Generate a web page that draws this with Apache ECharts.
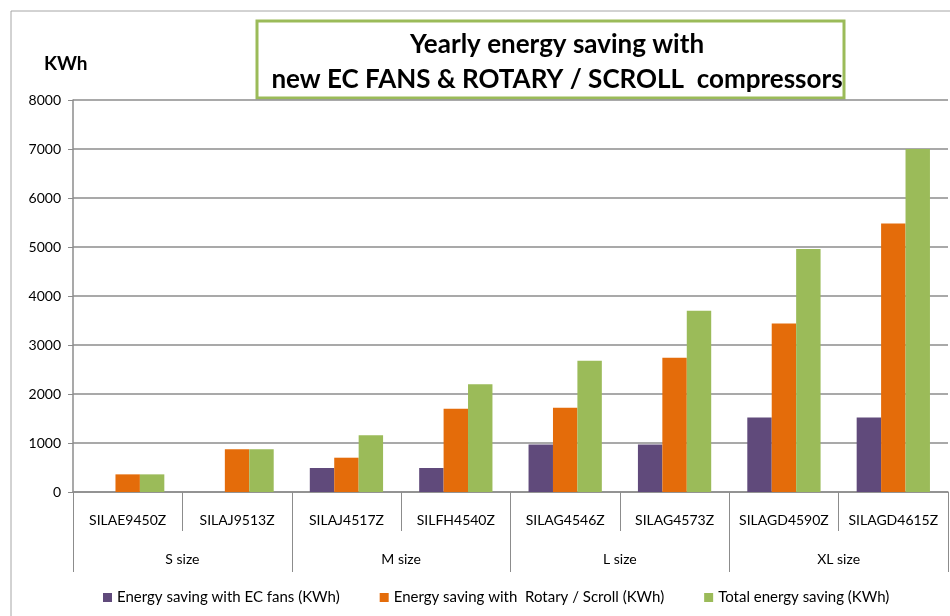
<!DOCTYPE html>
<html>
<head>
<meta charset="utf-8">
<title>Yearly energy saving</title>
<script src="https://cdn.jsdelivr.net/npm/echarts@6/dist/echarts.min.js"></script>
<style>
  html, body { margin: 0; padding: 0; background: #fff; }
  #chart { width: 950px; height: 616px; }
</style>
</head>
<body>
<div id="chart"></div>
<script>
  // models and their size groups
  const models = ['SILAE9450Z', 'SILAJ9513Z', 'SILAJ4517Z', 'SILFH4540Z', 'SILAG4546Z', 'SILAG4573Z', 'SILAGD4590Z', 'SILAGD4615Z']
  const sizes = ['S size', 'M size', 'L size', 'XL size']
  const yTicks = [0, 1000, 2000, 3000, 4000, 5000, 6000, 7000, 8000]

  // values (KWh)
  const ecFans = [0, 0, 490, 490, 970, 970, 1520, 1520]
  const rotaryScroll = [360, 870, 700, 1700, 1720, 2740, 3440, 5480]
  const totalSaving = [360, 870, 1160, 2200, 2680, 3700, 4960, 7000]

  const seriesNames = ['Energy saving with EC fans (KWh)', 'Energy saving with  Rotary / Scroll (KWh)', 'Total energy saving (KWh)']
  const colors = ['#604a7b', '#e46c0a', '#9bbb59']
  const font = 'Lato, "Liberation Sans", sans-serif'
  const gray = '#8c8c8c'

  const chart = echarts.init(document.getElementById('chart'))

  const option = {
    animation: false,
    color: colors,
    textStyle: { fontFamily: font },
    title: [{
      text: 'Yearly energy saving with\nnew EC FANS & ROTARY / SCROLL  compressors',
      left: 552,
      top: 22,
      textAlign: 'center',
      textStyle: { fontFamily: font, fontSize: 26, fontWeight: 'bold', color: '#000', lineHeight: 35 }
    }, {
      text: 'KWh',
      left: 39,
      top: 49,
      textStyle: { fontFamily: font, fontSize: 19, fontWeight: 'bold', color: '#000' }
    }],
    graphic: [{
      type: 'rect',
      shape: { x: 11, y: 11, width: 960, height: 640 },
      style: { fill: 'none', stroke: '#a6a6a6', lineWidth: 1 },
      silent: true
    }, {
      type: 'rect',
      shape: { x: 257, y: 21, width: 587, height: 77 },
      style: { fill: '#fff', stroke: '#9bbb59', lineWidth: 3 },
      z: -1,
      silent: true
    }],
    legend: {
      bottom: 6,
      left: 98,
      itemWidth: 9,
      itemHeight: 9,
      itemGap: 40,
      icon: 'rect',
      textStyle: { fontFamily: font, fontSize: 15, color: '#000' },
      data: seriesNames
    },
    grid: { left: 73, right: 2, top: 100, bottom: 124, containLabel: false },
    xAxis: [{
      type: 'category',
      data: models,
      position: 'bottom',
      axisLine: { lineStyle: { color: gray, width: 1.5 } },
      axisTick: { show: true, length: 39, interval: 0, lineStyle: { color: gray } },
      axisLabel: { interval: 0, margin: 21, color: '#000', fontSize: 14, fontFamily: font }
    }, {
      type: 'category',
      data: sizes,
      position: 'bottom',
      axisLine: { show: false },
      axisTick: { show: true, length: 80, interval: 0, lineStyle: { color: gray } },
      axisLabel: { interval: 0, margin: 60, color: '#000', fontSize: 14, fontFamily: font }
    }],
    yAxis: {
      type: 'value',
      min: yTicks[0],
      max: yTicks[yTicks.length - 1],
      interval: 1000,
      axisLine: { show: true, lineStyle: { color: gray, width: 1.5 } },
      axisTick: { show: true, length: 5, lineStyle: { color: gray } },
      axisLabel: { color: '#000', fontSize: 14, margin: 12, fontFamily: font, formatter: v => String(v) },
      splitLine: { lineStyle: { color: gray, width: 1.5 } }
    },
    series: [
      { name: seriesNames[0], type: 'bar', data: ecFans, barGap: '0%', barCategoryGap: '33%' },
      { name: seriesNames[1], type: 'bar', data: rotaryScroll, barGap: '0%', barCategoryGap: '33%' },
      { name: seriesNames[2], type: 'bar', data: totalSaving, barGap: '0%', barCategoryGap: '33%' }
    ]
  }

  chart.setOption(option)
</script>
</body>
</html>
